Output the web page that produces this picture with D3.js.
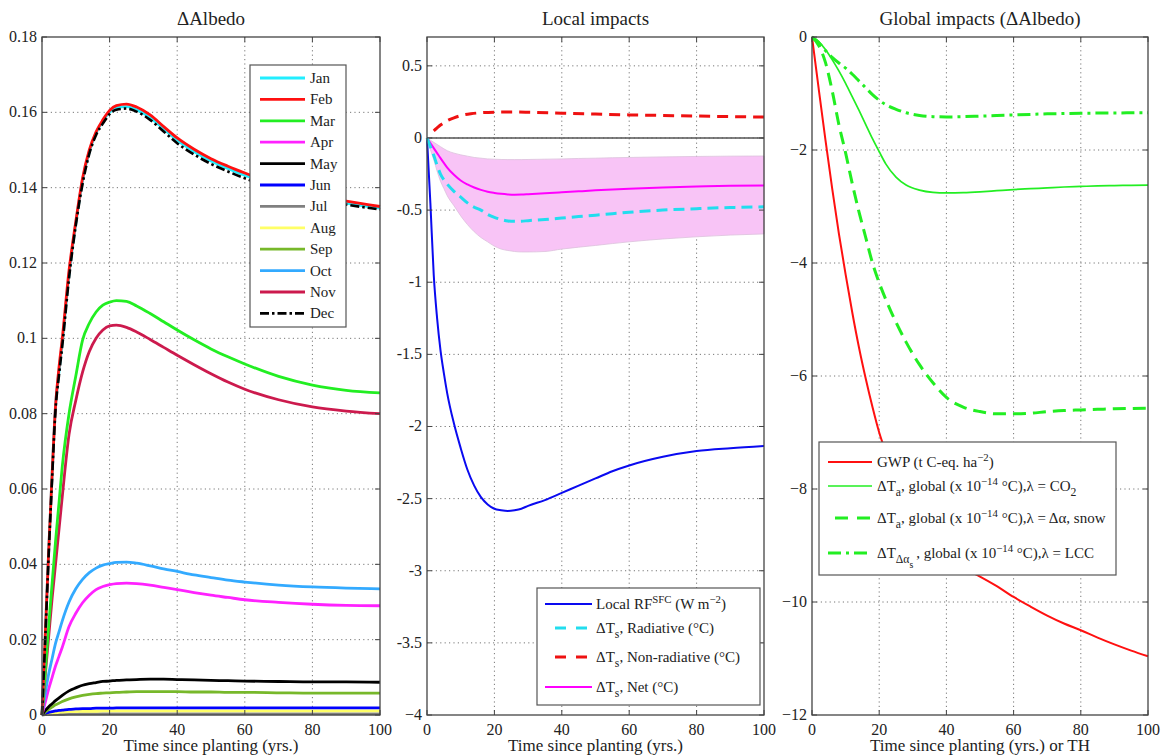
<!DOCTYPE html>
<html><head><meta charset="utf-8">
<script src="https://cdn.jsdelivr.net/npm/d3@7"></script>
<style>
body{margin:0;background:#fff}
svg{display:block}
text{font-family:"Liberation Serif","Times New Roman",serif;fill:#222}
</style>
</head><body>
<svg id="c" width="1162" height="756" font-family="Liberation Serif, Times New Roman, serif"></svg>
<script>
// ---------- Panel 1 : ΔAlbedo by month ----------
const T1 = [0,1,2,3,4,5,6,8,10,12,14,16,18,20,22,25,28,32,36,40,45,50,55,60,70,80,90,100];
const months = ["Jan","Feb","Mar","Apr","May","Jun","Jul","Aug","Sep","Oct","Nov","Dec"];
const jan = [0,0.022,0.044,0.064,0.082,0.091,0.099,0.117,0.1305,0.142,0.1495,0.1545,0.1577,0.1600,0.1612,0.1615,0.1607,0.1586,0.1556,0.1526,0.1496,0.1471,0.1451,0.1433,0.1401,0.1376,0.1359,0.1346];
const feb = [0,0.022,0.044,0.064,0.082,0.092,0.100,0.118,0.131,0.1425,0.150,0.1548,0.158,0.1605,0.1618,0.1622,0.1614,0.1593,0.1562,0.1532,0.1502,0.1477,0.1457,0.1439,0.1407,0.1382,0.1364,0.1350];
const mar = [0,0.012,0.024,0.035,0.046,0.056,0.066,0.080,0.090,0.0995,0.104,0.107,0.1088,0.1096,0.1100,0.1098,0.1086,0.1066,0.1044,0.1022,0.0996,0.0972,0.0951,0.0932,0.0899,0.0876,0.0862,0.0855];
const apr = [0,0.0035,0.007,0.010,0.013,0.0155,0.018,0.0235,0.027,0.0298,0.0318,0.0333,0.0341,0.0346,0.0349,0.0350,0.0349,0.0345,0.0339,0.0333,0.0325,0.0318,0.0312,0.0306,0.0299,0.0294,0.0291,0.0290];
const may = [0,0.0012,0.0022,0.0030,0.0038,0.0045,0.0052,0.0064,0.0072,0.0079,0.0083,0.0086,0.0089,0.0090,0.0092,0.0093,0.0094,0.0095,0.0095,0.0094,0.0093,0.0092,0.0091,0.0090,0.0089,0.0088,0.0088,0.0087];
const jun = [0,0.0004,0.0007,0.0009,0.0011,0.0012,0.0013,0.0015,0.0016,0.0017,0.0017,0.0018,0.0018,0.0018,0.0019,0.0019,0.0019,0.0019,0.0019,0.0019,0.0019,0.0019,0.0019,0.0019,0.0019,0.0019,0.0019,0.0019];
const jul = [0,0.0001,0.0001,0.0002,0.0002,0.0002,0.0002,0.0003,0.0003,0.0003,0.0003,0.0003,0.0003,0.0003,0.0003,0.0003,0.0003,0.0003,0.0003,0.0003,0.0003,0.0003,0.0003,0.0003,0.0003,0.0003,0.0003,0.0003];
const aug = [0,0.0002,0.0004,0.0005,0.0006,0.0007,0.0008,0.0009,0.0009,0.0010,0.0010,0.0010,0.0011,0.0011,0.0011,0.0011,0.0011,0.0011,0.0011,0.0011,0.0011,0.0011,0.0011,0.0011,0.0011,0.0011,0.0011,0.0011];
const sep = [0,0.0008,0.0015,0.0021,0.0027,0.0031,0.0036,0.0043,0.0048,0.0052,0.0055,0.0057,0.0058,0.0059,0.0060,0.0061,0.0062,0.0062,0.0062,0.0062,0.0061,0.0061,0.0060,0.0060,0.0059,0.0058,0.0058,0.0058];
const oct = [0,0.006,0.011,0.015,0.019,0.022,0.025,0.030,0.0335,0.036,0.0378,0.039,0.0398,0.0402,0.0405,0.0406,0.0403,0.0396,0.0388,0.0381,0.0372,0.0365,0.0358,0.0353,0.0345,0.0340,0.0337,0.0335];
const nov = [0,0.011,0.021,0.031,0.040,0.049,0.058,0.0745,0.0835,0.091,0.0965,0.1000,0.1022,0.1033,0.1035,0.1029,0.1017,0.0997,0.0976,0.0955,0.0930,0.0906,0.0884,0.0865,0.0837,0.0818,0.0807,0.0800];
const dec = [0,0.021,0.043,0.063,0.081,0.090,0.098,0.116,0.130,0.141,0.149,0.154,0.157,0.1595,0.1607,0.1610,0.1602,0.1580,0.1549,0.1518,0.1488,0.1463,0.1443,0.1425,0.1395,0.1371,0.1355,0.1342];
const monthValues = [jan,feb,mar,apr,may,jun,jul,aug,sep,oct,nov,dec];
const monthColors = ["#22eeff","#ff1010","#22ee22","#ff22ff","#000000","#0000ff","#808080","#ffff66","#77b82a","#33aaff","#cc1a4d","#000000"];
const y1Ticks = [0,0.02,0.04,0.06,0.08,0.1,0.12,0.14,0.16,0.18];
const y1Labels = ["0","0.02","0.04","0.06","0.08","0.1","0.12","0.14","0.16","0.18"];

// ---------- Panel 2 : Local impacts ----------
const T2 = [0,1,2,3,4,5,6,8,10,12,14,16,18,20,22,24,26,28,30,35,40,45,50,55,60,70,80,90,100];
const localRF = [0,-0.45,-0.95,-1.25,-1.47,-1.63,-1.77,-1.98,-2.15,-2.30,-2.41,-2.49,-2.54,-2.57,-2.58,-2.585,-2.58,-2.57,-2.55,-2.51,-2.46,-2.41,-2.36,-2.31,-2.27,-2.21,-2.17,-2.15,-2.135];
const dTsRad = [0,-0.06,-0.12,-0.19,-0.25,-0.29,-0.32,-0.37,-0.41,-0.45,-0.48,-0.50,-0.53,-0.55,-0.565,-0.575,-0.578,-0.577,-0.573,-0.565,-0.555,-0.545,-0.535,-0.525,-0.515,-0.50,-0.49,-0.482,-0.477];
const dTsNet = [0,-0.035,-0.07,-0.105,-0.14,-0.173,-0.205,-0.255,-0.295,-0.322,-0.343,-0.36,-0.373,-0.381,-0.387,-0.391,-0.393,-0.392,-0.39,-0.384,-0.377,-0.37,-0.363,-0.357,-0.352,-0.343,-0.337,-0.332,-0.33];
const bandUpper = [0,-0.015,-0.03,-0.045,-0.06,-0.075,-0.088,-0.105,-0.117,-0.126,-0.135,-0.14,-0.145,-0.147,-0.149,-0.15,-0.15,-0.15,-0.149,-0.147,-0.145,-0.142,-0.14,-0.137,-0.135,-0.131,-0.128,-0.126,-0.125];
const bandLower = [0,-0.08,-0.15,-0.23,-0.3,-0.35,-0.4,-0.47,-0.54,-0.6,-0.65,-0.69,-0.72,-0.75,-0.77,-0.78,-0.787,-0.79,-0.79,-0.787,-0.77,-0.757,-0.745,-0.732,-0.72,-0.70,-0.685,-0.673,-0.665];
const TNonRad = [2,3,4,6,8,10,13,16,20,25,30,40,50,60,70,80,90,100];
const dTsNonRad = [0.05,0.07,0.09,0.12,0.14,0.155,0.168,0.175,0.179,0.18,0.178,0.172,0.166,0.16,0.156,0.152,0.148,0.145];
const y2Ticks = [0.5,0,-0.5,-1,-1.5,-2,-2.5,-3,-3.5,-4];
const y2Labels = ["0.5","0","-0.5","-1","-1.5","-2","-2.5","-3","-3.5","\u22124"];

// ---------- Panel 3 : Global impacts ----------
const T3 = [0,2,4,6,8,10,12,14,16,18,20,22,25,28,32,36,40,45,50,55,60,65,70,75,80,85,90,95,100];
const gwp = [0,-0.92,-1.82,-2.68,-3.48,-4.2,-4.88,-5.5,-6.05,-6.55,-7.0,-7.35,-7.8,-8.15,-8.55,-8.9,-9.15,-9.4,-9.55,-9.72,-9.91,-10.08,-10.24,-10.38,-10.5,-10.63,-10.75,-10.86,-10.96];
const dTaCO2 = [0,-0.08,-0.22,-0.4,-0.6,-0.82,-1.06,-1.3,-1.55,-1.8,-2.03,-2.25,-2.48,-2.62,-2.71,-2.75,-2.76,-2.755,-2.74,-2.72,-2.70,-2.685,-2.67,-2.655,-2.645,-2.635,-2.63,-2.625,-2.62];
const dTaSnow = [0,-0.15,-0.45,-0.95,-1.55,-2.05,-2.6,-3.1,-3.55,-4.0,-4.35,-4.65,-5.05,-5.4,-5.8,-6.12,-6.38,-6.55,-6.63,-6.67,-6.67,-6.66,-6.63,-6.61,-6.6,-6.59,-6.58,-6.575,-6.57];
const dTLCC = [0,-0.1,-0.24,-0.36,-0.46,-0.55,-0.66,-0.78,-0.9,-1.02,-1.12,-1.2,-1.28,-1.34,-1.39,-1.41,-1.415,-1.41,-1.4,-1.39,-1.38,-1.37,-1.36,-1.355,-1.35,-1.347,-1.345,-1.342,-1.34];
const y3Ticks = [0,-2,-4,-6,-8,-10,-12];
const y3Labels = ["0","\u22122","\u22124","\u22126","\u22128","\u221210","\u221212"];

const xTicks = [0,20,40,60,80,100];
const xLabels = ["0","20","40","60","80","100"];

// ---------- drawing ----------
const svg = d3.select("#c");

function panel(o){
  const g = svg.append("g");
  const x = d3.scaleLinear().domain([0,100]).range([o.x0,o.x1]);
  const y = d3.scaleLinear().domain(o.ydom).range([o.y1,o.y0]);
  const grid = g.append("g").attr("stroke","#777").attr("stroke-width",1).attr("stroke-dasharray","1.2,3.2");
  xTicks.slice(1,-1).forEach(t=>grid.append("line").attr("x1",x(t)).attr("x2",x(t)).attr("y1",o.y0).attr("y2",o.y1));
  o.yticks.forEach(t=>{ if(Math.abs(y(t)-o.y0)>2 && Math.abs(y(t)-o.y1)>2) grid.append("line").attr("x1",o.x0).attr("x2",o.x1).attr("y1",y(t)).attr("y2",y(t)); });
  const marks = g.append("g");
  const finish = ()=>{
    const f = svg.append("g");
    f.append("rect").attr("x",o.x0).attr("y",o.y0).attr("width",o.x1-o.x0).attr("height",o.y1-o.y0)
      .attr("fill","none").attr("stroke","#444").attr("stroke-width",1.3);
    xTicks.forEach(t=>{
      f.append("line").attr("x1",x(t)).attr("x2",x(t)).attr("y1",o.y1).attr("y2",o.y1-5).attr("stroke","#444");
      f.append("line").attr("x1",x(t)).attr("x2",x(t)).attr("y1",o.y0).attr("y2",o.y0+5).attr("stroke","#444");
    });
    o.yticks.forEach(t=>{
      f.append("line").attr("x1",o.x0).attr("x2",o.x0+5).attr("y1",y(t)).attr("y2",y(t)).attr("stroke","#444");
      f.append("line").attr("x1",o.x1).attr("x2",o.x1-5).attr("y1",y(t)).attr("y2",y(t)).attr("stroke","#444");
    });
    xTicks.forEach((t,i)=>f.append("text").attr("x",x(t)).attr("y",o.y1+20).attr("text-anchor","middle").attr("font-size",16).text(xLabels[i]));
    o.yticks.forEach((t,i)=>f.append("text").attr("x",o.x0-5).attr("y",y(t)+5).attr("text-anchor","end").attr("font-size",16).text(o.ylabels[i]));
    f.append("text").attr("x",(o.x0+o.x1)/2).attr("y",25).attr("text-anchor","middle").attr("font-size",19).text(o.title);
    f.append("text").attr("x",(o.x0+o.x1)/2).attr("y",751).attr("text-anchor","middle").attr("font-size",17).text(o.xlabel);
  };
  return {g:marks,x,y,finish};
}

function rich(sel, parts){
  const off = {n:0, sup:-6, sub:5, subsub:10};
  const fs = {n:null, sup:0.72, sub:0.78, subsub:0.65};
  let cur = 0;
  parts.forEach(([t,m])=>{
    const ts = sel.append("tspan").text(t);
    const target = off[m];
    ts.attr("dy", target-cur);
    cur = target;
    if(fs[m]) ts.attr("font-size", (fs[m]*100)+"%");
  });
}

// Panel 1
const p1 = panel({x0:42,x1:380,y0:37,y1:715,ydom:[0,0.18],yticks:y1Ticks,ylabels:y1Labels,title:"\u0394Albedo",xlabel:"Time since planting (yrs.)"});
const drawOrder = [6,7,5,8,4,3,9,10,2,0,1,11];
drawOrder.forEach(i=>{
  const line = d3.line().x((d,j)=>p1.x(T1[j])).y(d=>p1.y(d)).curve(d3.curveMonotoneX);
  p1.g.append("path").attr("d",line(monthValues[i])).attr("fill","none")
    .attr("stroke",monthColors[i]).attr("stroke-width",i===11?2.6:2.8)
    .attr("stroke-dasharray", i===11?"9,3,2.5,3":null);
});
p1.finish();
{
  const lg = svg.append("g");
  lg.append("rect").attr("x",250).attr("y",65).attr("width",96).attr("height",262).attr("fill","#fff").attr("stroke","#555").attr("stroke-width",1.2);
  months.forEach((m,i)=>{
    const yy = 78 + i*21.4;
    lg.append("line").attr("x1",260).attr("x2",305).attr("y1",yy).attr("y2",yy).attr("stroke",monthColors[i]).attr("stroke-width",2.8)
      .attr("stroke-dasharray", i===11?"9,3,2.5,3":null);
    lg.append("text").attr("x",310).attr("y",yy+5).attr("font-size",15).text(m);
  });
}

// Panel 2
const p2 = panel({x0:427,x1:764,y0:37,y1:715,ydom:[-4,0.7],yticks:y2Ticks,ylabels:y2Labels,title:"Local impacts",xlabel:"Time since planting (yrs.)"});
{
  const area = d3.area().x((d,j)=>p2.x(T2[j])).y0((d,j)=>p2.y(bandLower[j])).y1(d=>p2.y(d)).curve(d3.curveMonotoneX);
  p2.g.append("path").attr("d",area(bandUpper)).attr("fill","#f8c4f6").attr("stroke","#dcc0dc").attr("stroke-width",0.8);
  p2.g.append("line").attr("x1",p2.x(0)).attr("x2",p2.x(100)).attr("y1",p2.y(0)).attr("y2",p2.y(0)).attr("stroke","#555").attr("stroke-width",1.3);
  const ln = arr=>d3.line().x((d,j)=>p2.x(arr[j])).y(d=>p2.y(d)).curve(d3.curveMonotoneX);
  p2.g.append("path").attr("d",ln(T2)(localRF)).attr("fill","none").attr("stroke","#0a0af0").attr("stroke-width",2);
  p2.g.append("path").attr("d",ln(T2)(dTsNet)).attr("fill","none").attr("stroke","#ff00ff").attr("stroke-width",2);
  p2.g.append("path").attr("d",ln(T2)(dTsRad)).attr("fill","none").attr("stroke","#22ddee").attr("stroke-width",3).attr("stroke-dasharray","11,6");
  p2.g.append("path").attr("d",ln(TNonRad)(dTsNonRad)).attr("fill","none").attr("stroke","#ee1111").attr("stroke-width",3).attr("stroke-dasharray","11,7");
}
p2.finish();
{
  const lg = svg.append("g");
  lg.append("rect").attr("x",537).attr("y",588).attr("width",223).attr("height",117).attr("fill","#fff").attr("stroke","#555").attr("stroke-width",1.2);
  const items = [
    {y:604, c:"#0a0af0", w:2, d:null, x1:545, parts:[["Local RF","n"],["SFC","sup"],[" (W m","n"],["\u22122","sup"],[")","n"]]},
    {y:628, c:"#22ddee", w:3, d:"11,10", x1:555, parts:[["\u0394T","n"],["s","sub"],[", Radiative (\u00b0C)","n"]]},
    {y:657, c:"#ee1111", w:3, d:"11,10", x1:555, parts:[["\u0394T","n"],["s","sub"],[", Non-radiative (\u00b0C)","n"]]},
    {y:687, c:"#ff00ff", w:2, d:null, x1:545, parts:[["\u0394T","n"],["s","sub"],[", Net (\u00b0C)","n"]]}
  ];
  items.forEach(it=>{
    lg.append("line").attr("x1",it.x1).attr("x2",592).attr("y1",it.y).attr("y2",it.y).attr("stroke",it.c).attr("stroke-width",it.w).attr("stroke-dasharray",it.d);
    rich(lg.append("text").attr("x",596).attr("y",it.y+5).attr("font-size",15), it.parts);
  });
}

// Panel 3
const p3 = panel({x0:812,x1:1148,y0:37,y1:715,ydom:[-12,0],yticks:y3Ticks,ylabels:y3Labels,title:"Global impacts (\u0394Albedo)",xlabel:"Time since planting (yrs.) or TH"});
{
  const ln = d3.line().x((d,j)=>p3.x(T3[j])).y(d=>p3.y(d)).curve(d3.curveMonotoneX);
  p3.g.append("path").attr("d",ln(gwp)).attr("fill","none").attr("stroke","#ff1010").attr("stroke-width",2);
  p3.g.append("path").attr("d",ln(dTaCO2)).attr("fill","none").attr("stroke","#22ee22").attr("stroke-width",1.7);
  p3.g.append("path").attr("d",ln(dTaSnow)).attr("fill","none").attr("stroke","#22ee22").attr("stroke-width",3).attr("stroke-dasharray","13,7");
  p3.g.append("path").attr("d",ln(dTLCC)).attr("fill","none").attr("stroke","#22ee22").attr("stroke-width",3).attr("stroke-dasharray","13,5,3,5");
}
p3.finish();
{
  const lg = svg.append("g");
  lg.append("rect").attr("x",819).attr("y",442).attr("width",297).attr("height",133).attr("fill","#fff").attr("stroke","#555").attr("stroke-width",1.2);
  const sup14 = [[", global (x 10","n"],["\u221214","sup"],[" \u00b0C),\u03bb = ","n"]];
  const items = [
    {y:462, w:2, c:"#ff1010", d:null, x1:828, parts:[["GWP (t C-eq. ha","n"],["\u22122","sup"],[")","n"]]},
    {y:486, w:1.7, c:"#22ee22", d:null, x1:828, parts:[["\u0394T","n"],["a","sub"]].concat(sup14,[["CO","n"],["2","sub"]])},
    {y:518, w:3, c:"#22ee22", d:"13,9", x1:835, parts:[["\u0394T","n"],["a","sub"]].concat(sup14,[["\u0394\u03b1, snow","n"]])},
    {y:553, w:3, c:"#22ee22", d:"13,5,3,5", x1:828, parts:[["\u0394T","n"],["\u0394\u03b1","sub"],["s","subsub"],[" ","sub"]].concat(sup14,[["LCC","n"]])}
  ];
  items.forEach(it=>{
    lg.append("line").attr("x1",it.x1).attr("x2",872).attr("y1",it.y).attr("y2",it.y).attr("stroke",it.c).attr("stroke-width",it.w).attr("stroke-dasharray",it.d);
    rich(lg.append("text").attr("x",877).attr("y",it.y+5).attr("font-size",15), it.parts);
  });
}
</script>
</body></html>
